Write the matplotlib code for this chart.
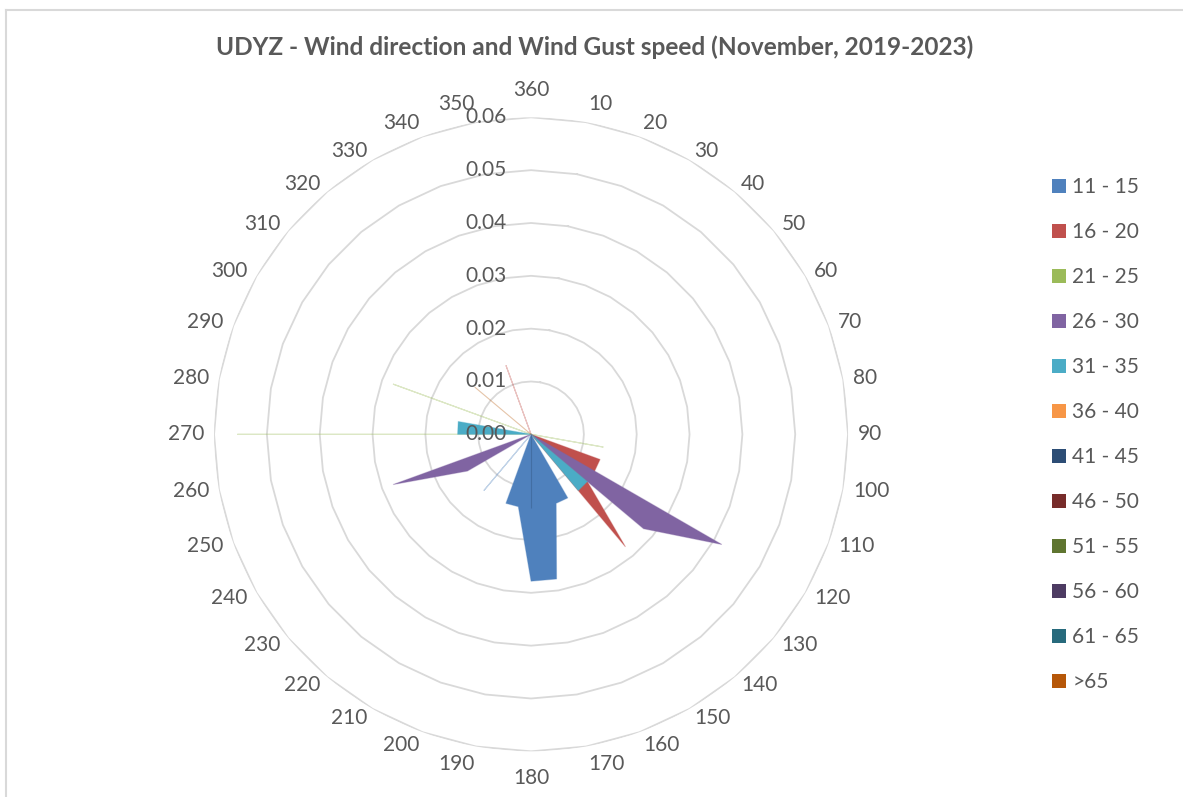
import numpy as np
import matplotlib
matplotlib.use("Agg")
import matplotlib.pyplot as plt
from matplotlib.colors import to_rgba
from matplotlib.patches import Patch

plt.rcParams['font.family'] = ['Lato', 'DejaVu Sans']

# wind directions (degrees), one category every 10 degrees
directions = list(range(10, 370, 10))

# relative frequency for each gust-speed class, indexed like `directions`
#          10 20 30 40 50 60 70 80 90 100     110     120     130     140     150     160     170     180     190     200 210 220     230 240     250     260 270     280    290     300 310     320 330 340     350 360
s_11_15 = [0, 0, 0, 0, 0, 0, 0, 0, 0, 0,      0,      0,      0,      0,      0.0139, 0.0139, 0.0278, 0.0278, 0.0139, 0.0139, 0, 0.0139, 0, 0,      0,      0, 0,      0,     0,      0, 0,      0, 0, 0,      0, 0]
s_16_20 = [0, 0, 0, 0, 0, 0, 0, 0, 0, 0,      0.0139, 0.0139, 0.0139, 0.0278, 0,      0,      0,      0,      0,      0,      0, 0,      0, 0,      0,      0, 0,      0,     0,      0, 0,      0, 0, 0.0139, 0, 0]
s_21_25 = [0, 0, 0, 0, 0, 0, 0, 0, 0, 0.0139, 0,      0,      0,      0,      0,      0,      0,      0,      0,      0,      0, 0,      0, 0,      0,      0, 0.0556, 0,     0.0278, 0, 0,      0, 0, 0,      0, 0]
s_26_30 = [0, 0, 0, 0, 0, 0, 0, 0, 0, 0,      0,      0.0417, 0.0278, 0,      0,      0,      0,      0,      0,      0,      0, 0,      0, 0.0139, 0.0278, 0, 0,      0,     0,      0, 0,      0, 0, 0,      0, 0]
s_31_35 = [0, 0, 0, 0, 0, 0, 0, 0, 0, 0,      0,      0,      0.0139, 0.0139, 0,      0,      0,      0,      0,      0,      0, 0,      0, 0,      0,      0, 0.0139, 0.014, 0,      0, 0,      0, 0, 0,      0, 0]
s_36_40 = [0] * 36
s_41_45 = [0, 0, 0, 0, 0, 0, 0, 0, 0, 0,      0,      0,      0,      0,      0,      0,      0,      0.0139, 0,      0,      0, 0,      0, 0,      0,      0, 0,      0,     0,      0, 0,      0, 0, 0,      0, 0]
s_46_50 = [0] * 36
s_51_55 = [0] * 36
s_56_60 = [0] * 36
s_61_65 = [0] * 36
s_65_up = [0, 0, 0, 0, 0, 0, 0, 0, 0, 0,      0,      0,      0,      0,      0,      0,      0,      0,      0,      0,      0, 0,      0, 0,      0,      0, 0,      0,     0,      0, 0.0139, 0, 0, 0,      0, 0]

series_labels = ['11 - 15', '16 - 20', '21 - 25', '26 - 30', '31 - 35', '36 - 40',
                 '41 - 45', '46 - 50', '51 - 55', '56 - 60', '61 - 65', '>65']
series_values = [s_11_15, s_16_20, s_21_25, s_26_30, s_31_35, s_36_40,
                 s_41_45, s_46_50, s_51_55, s_56_60, s_61_65, s_65_up]
colors = ['#4F81BD', '#C0504D', '#9BBB59', '#8064A2', '#4BACC6', '#F79646',
          '#2C4D75', '#772C2A', '#5F7530', '#4D3B62', '#276A7C', '#B65708']

r_ticks = [0.00, 0.01, 0.02, 0.03, 0.04, 0.05, 0.06]
r_max = 0.06

text_color = '#595959'
grid_color = '#D9D9D9'
fs = 15

fig = plt.figure(figsize=(11.83, 7.97), dpi=100)
ax = fig.add_axes([0.1809, 0.0573, 0.536, 0.7955], projection='polar')
ax.set_theta_zero_location('N')
ax.set_theta_direction(-1)
ax.set_ylim(0, r_max)
ax.set_xticks([])
ax.set_yticks([])
ax.grid(False)
ax.spines['polar'].set_visible(False)
ax.patch.set_alpha(0)

theta = np.deg2rad(directions)
theta_closed = np.append(theta, theta[0])

# polygon gridlines like an Excel radar chart
for r in r_ticks[1:]:
    ax.plot(theta_closed, [r] * len(theta_closed), color=grid_color, lw=1.3, zorder=0)

for vals, col in zip(series_values, colors):
    v = np.append(vals, vals[0])
    ax.fill(theta_closed, v, facecolor=col, edgecolor=to_rgba(col, 0.35), lw=0.8, zorder=2)

# radial value labels along the 360 axis
for r in r_ticks:
    ax.annotate(f'{r:.2f}', xy=(0, r), xytext=(-24, 0), textcoords='offset pixels',
                ha='right', va='center', fontsize=fs, color=text_color, zorder=5,
                annotation_clip=False)

# category labels around the outside
for d in directions:
    a = np.deg2rad(d)
    s, c = np.sin(a), np.cos(a)
    if abs(s) < 1e-6:
        ha = 'center'
        va = 'bottom' if c > 0 else 'top'
        off = (0, c * 17)
    else:
        ha = 'left' if s > 0 else 'right'
        va = 'center'
        nudge = max(0.0, abs(c) - 0.9) * 95
        off = (s * 10, c * 10 + np.sign(c) * nudge)
    ax.annotate(str(d), xy=(a, r_max), xytext=off, textcoords='offset pixels',
                ha=ha, va=va, fontsize=fs, color=text_color, annotation_clip=False)

fig.text(595 / 1183, 1 - 47 / 797, 'UDYZ - Wind direction and Wind Gust speed (November, 2019-2023)',
         ha='center', va='center', fontsize=17.6, fontweight='bold', color=text_color)

handles = [Patch(facecolor=c, edgecolor='none') for c in colors]
fig.legend(handles, series_labels, loc='upper left', bbox_to_anchor=(1052 / 1183, 1 - 177 / 797),
           frameon=False, fontsize=fs, labelcolor=text_color, borderaxespad=0, borderpad=0,
           handlelength=0.67, handleheight=0.67, handletextpad=0.3, labelspacing=1.2)

# chart area border (partially visible in the source)
fig.add_artist(plt.Line2D([6 / 1183, 6 / 1183], [0, 1 - 10 / 797], color=grid_color, lw=1.5))
fig.add_artist(plt.Line2D([6 / 1183, 1], [1 - 10 / 797, 1 - 10 / 797], color=grid_color, lw=1.5))

fig.savefig('out.png', dpi=100)
